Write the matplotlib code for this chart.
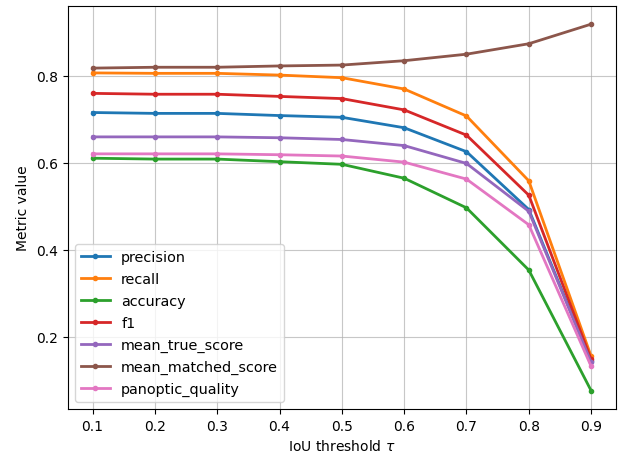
import matplotlib
matplotlib.use("Agg")
import matplotlib.pyplot as plt

thresholds = [0.1, 0.2, 0.3, 0.4, 0.5, 0.6, 0.7, 0.8, 0.9]
precision = [0.715, 0.713, 0.713, 0.708, 0.704, 0.680, 0.625, 0.492, 0.143]
recall = [0.806, 0.805, 0.805, 0.801, 0.795, 0.769, 0.707, 0.558, 0.155]
accuracy = [0.610, 0.608, 0.608, 0.602, 0.596, 0.564, 0.496, 0.353, 0.076]
f1 = [0.759, 0.757, 0.757, 0.752, 0.747, 0.721, 0.663, 0.525, 0.148]
mean_true_score = [0.659, 0.659, 0.659, 0.657, 0.653, 0.639, 0.598, 0.488, 0.141]
mean_matched_score = [0.817, 0.819, 0.819, 0.822, 0.824, 0.834, 0.849, 0.873, 0.918]
panoptic_quality = [0.620, 0.620, 0.620, 0.618, 0.615, 0.601, 0.562, 0.457, 0.132]

series = [
    ("precision", precision),
    ("recall", recall),
    ("accuracy", accuracy),
    ("f1", f1),
    ("mean_true_score", mean_true_score),
    ("mean_matched_score", mean_matched_score),
    ("panoptic_quality", panoptic_quality),
]

fig = plt.figure(figsize=(6.21, 4.56), dpi=100)
ax = fig.add_axes([0.109, 0.101, 0.883, 0.884])
for name, vals in series:
    ax.plot(thresholds, vals, '.-', lw=2, label=name)
ax.set_xlabel(r"IoU threshold $\tau$")
ax.set_ylabel("Metric value")
ax.set_xticks(thresholds)
ax.grid(True, alpha=0.7)
ax.legend(loc="lower left", fontsize=10.4, labelspacing=0.55)
fig.savefig("out.png", dpi=100)
